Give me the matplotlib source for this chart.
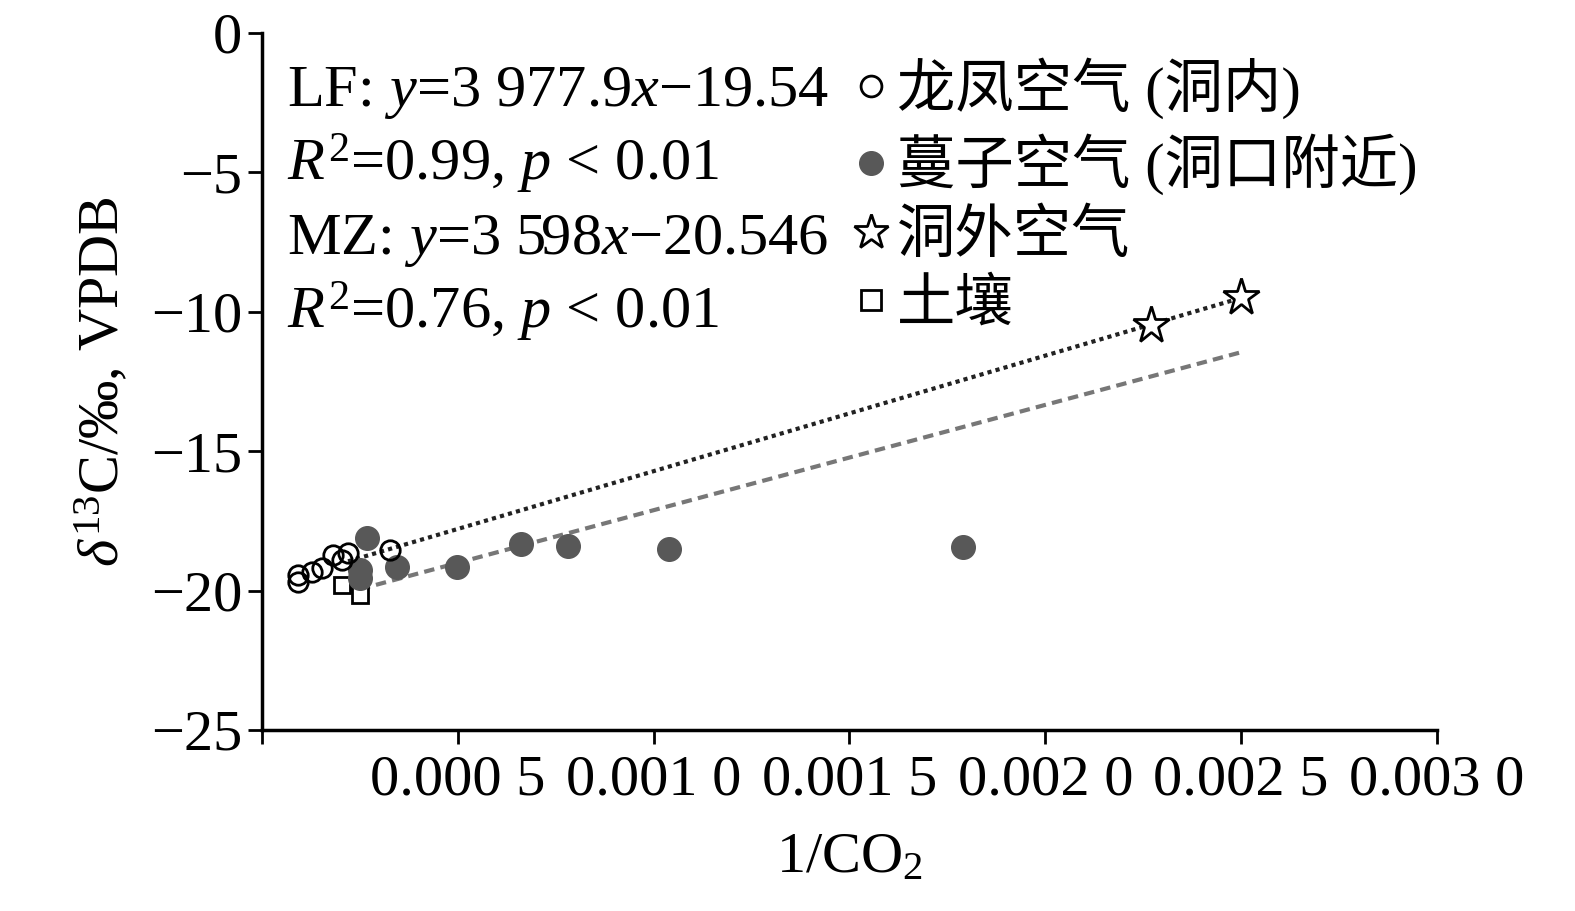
import matplotlib
matplotlib.use("Agg")
import matplotlib.pyplot as plt
from matplotlib.lines import Line2D

plt.rcParams["font.family"] = ["Liberation Serif", "Noto Sans CJK SC"]
plt.rcParams["mathtext.fontset"] = "custom"
plt.rcParams["mathtext.rm"] = "Liberation Serif"
plt.rcParams["mathtext.it"] = "Liberation Serif:italic"
plt.rcParams["mathtext.bf"] = "Liberation Serif:bold"

# ── data ───────────────────────────────────────────────────────────────────
# 龙凤空气 (洞内) — open circles
lf_x = [0.000092, 0.000092, 0.000127, 0.000153, 0.000181, 0.000204, 0.000219, 0.000326]
lf_y = [-19.68, -19.43, -19.35, -19.18, -18.71, -18.89, -18.64, -18.53]

# 蔓子空气 (洞口附近) — filled circles
mz_x = [0.000250, 0.000250, 0.000268, 0.000344, 0.000499, 0.000662, 0.000782, 0.001040, 0.001790]
mz_y = [-19.25, -19.55, -18.10, -19.14, -19.14, -18.32, -18.39, -18.50, -18.42]

# 洞外空气 — stars
out_x = [0.00227, 0.00250]
out_y = [-10.47, -9.46]

# 土壤 — open squares
soil_x = [0.000204, 0.000250]
soil_y = [-19.80, -20.15]

# fitted lines (end points as drawn)
lf_fit_x = [0.00022, 0.00250]
lf_fit_y = [-18.95, -9.50]
mz_fit_x = [0.00025, 0.00250]
mz_fit_y = [-19.95, -11.45]

x_ticks = [0.0, 0.0005, 0.0010, 0.0015, 0.0020, 0.0025, 0.0030]
x_ticklabels = ["", "0.000 5", "0.001 0", "0.001 5", "0.002 0", "0.002 5", "0.003 0"]
y_ticks = [0, -5, -10, -15, -20, -25]

legend_labels = ["龙凤空气 (洞内)", "蔓子空气 (洞口附近)", "洞外空气", "土壤"]
eq_lines = [
    "LF: $y$=3 977.9$x$\u221219.54",
    "$R^2$=0.99, $p$ < 0.01",
    "MZ: $y$=3 598$x$\u221220.546",
    "$R^2$=0.76, $p$ < 0.01",
]

FS = 42

fig = plt.figure(figsize=(15.75, 9.11), dpi=100)
ax = fig.add_axes([0.1663, 0.1987, 0.7461, 0.7651])

ax.plot(lf_fit_x, lf_fit_y, color="#222222", lw=3, ls=(0, (1, 1)), zorder=2)
ax.plot(mz_fit_x, mz_fit_y, color="#777777", lw=3, ls=(0, (2.5, 1.5)), zorder=2)

ax.plot(soil_x, soil_y, ls="none", marker="s", ms=12, mfc="white",
        mec="black", mew=2, zorder=3)
ax.plot(lf_x, lf_y, ls="none", marker="o", ms=14, mfc="none",
        mec="black", mew=2, zorder=4)
ax.plot(mz_x, mz_y, ls="none", marker="o", ms=17, mfc="#585858",
        mec="#585858", zorder=3)
ax.plot(out_x, out_y, ls="none", marker="*", ms=28, mfc="white",
        mec="black", mew=2, zorder=4)

leg_handles = [
    Line2D([], [], ls="none", marker="o", ms=15, mfc="white", mec="black", mew=2),
    Line2D([], [], ls="none", marker="o", ms=17, mfc="#585858", mec="#585858"),
    Line2D([], [], ls="none", marker="*", ms=26, mfc="white", mec="black", mew=2),
    Line2D([], [], ls="none", marker="s", ms=15, mfc="white", mec="black", mew=2),
]
ax.legend(leg_handles, legend_labels, loc="upper left", bbox_to_anchor=(0.503, 0.965),
          frameon=False, fontsize=FS, handlelength=0.6, handletextpad=0.15,
          labelspacing=0.25, borderpad=0, borderaxespad=0)

for i, t in enumerate(eq_lines):
    ax.text(0.021, 0.895 - i * 0.106, t, transform=ax.transAxes, fontsize=43.5,
            va="baseline", ha="left")

ax.set_xlim(0, 0.003)
ax.set_ylim(-25, 0)
ax.set_xticks(x_ticks)
ax.set_xticklabels(x_ticklabels)
ax.set_yticks(y_ticks)
ax.tick_params(axis="both", labelsize=FS, direction="out", length=10, width=2)
ax.tick_params(axis="x", pad=8)
ax.tick_params(axis="y", pad=4)

for s in ("top", "right"):
    ax.spines[s].set_visible(False)
for s in ("left", "bottom"):
    ax.spines[s].set_linewidth(2.5)

ax.set_xlabel("1/CO$_2$", fontsize=FS, labelpad=18)
ax.set_ylabel("$\\delta^{13}$C/‰, VPDB", fontsize=FS, labelpad=14)

fig.savefig("out.png", dpi=100)
